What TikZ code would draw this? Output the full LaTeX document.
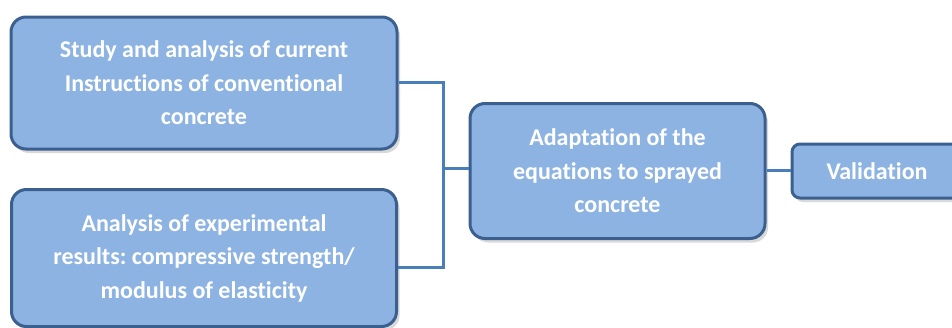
\documentclass[tikz,border=0pt]{standalone}
\usepackage{fontspec}
\setmainfont[Ligatures=NoCommon]{Carlito}
\usetikzlibrary{shadows}
\definecolor{boxfill}{HTML}{8DB3E2}
\definecolor{boxline}{HTML}{3B5F8E}
\definecolor{linkcol}{HTML}{4A7EBB}
\frenchspacing
\begin{document}
\begin{tikzpicture}[x=1pt,y=-1pt,
  stage/.style={draw=boxline, line width=3pt, fill=boxfill, rounded corners=15pt,
    text=white, font=\bfseries\fontsize{24}{33.5}\selectfont, align=center,
    inner sep=0pt,
    drop shadow={shadow xshift=3pt, shadow yshift=-4pt, opacity=0.25, fill=black!60}},
  link/.style={draw=linkcol, line width=3pt}]
\useasboundingbox (0,0) rectangle (952,327);
\clip (0,0) rectangle (952,327);
\node[stage, minimum width=386pt, minimum height=132pt] (study) at (204,83)
  {Study and analysis of current\\Instructions of conventional\\concrete};
\node[stage, minimum width=385pt, minimum height=137pt] (exper) at (204,258)
  {Analysis of experimental\\results: compressive strength/\\modulus of elasticity};
\node[stage, minimum width=295pt, minimum height=135pt] (adapt) at (617.5,171)
  {Adaptation of the\\equations to sprayed\\concrete};
\node[stage, rounded corners=8pt, minimum width=170pt, minimum height=54pt] (valid) at (877,171)
  {Validation};
\coordinate (jt) at (443,82);
\coordinate (jb) at (443,267);
\coordinate (jm) at (443,168);
\draw[link] (study.east |- jt) -- (jt) -- (jb) -- (exper.east |- jb);
\draw[link] (jm) -- (adapt.west |- jm);
\draw[link] (adapt.east |- 0,170) -- (valid.west |- 0,170);
\end{tikzpicture}
\end{document}
